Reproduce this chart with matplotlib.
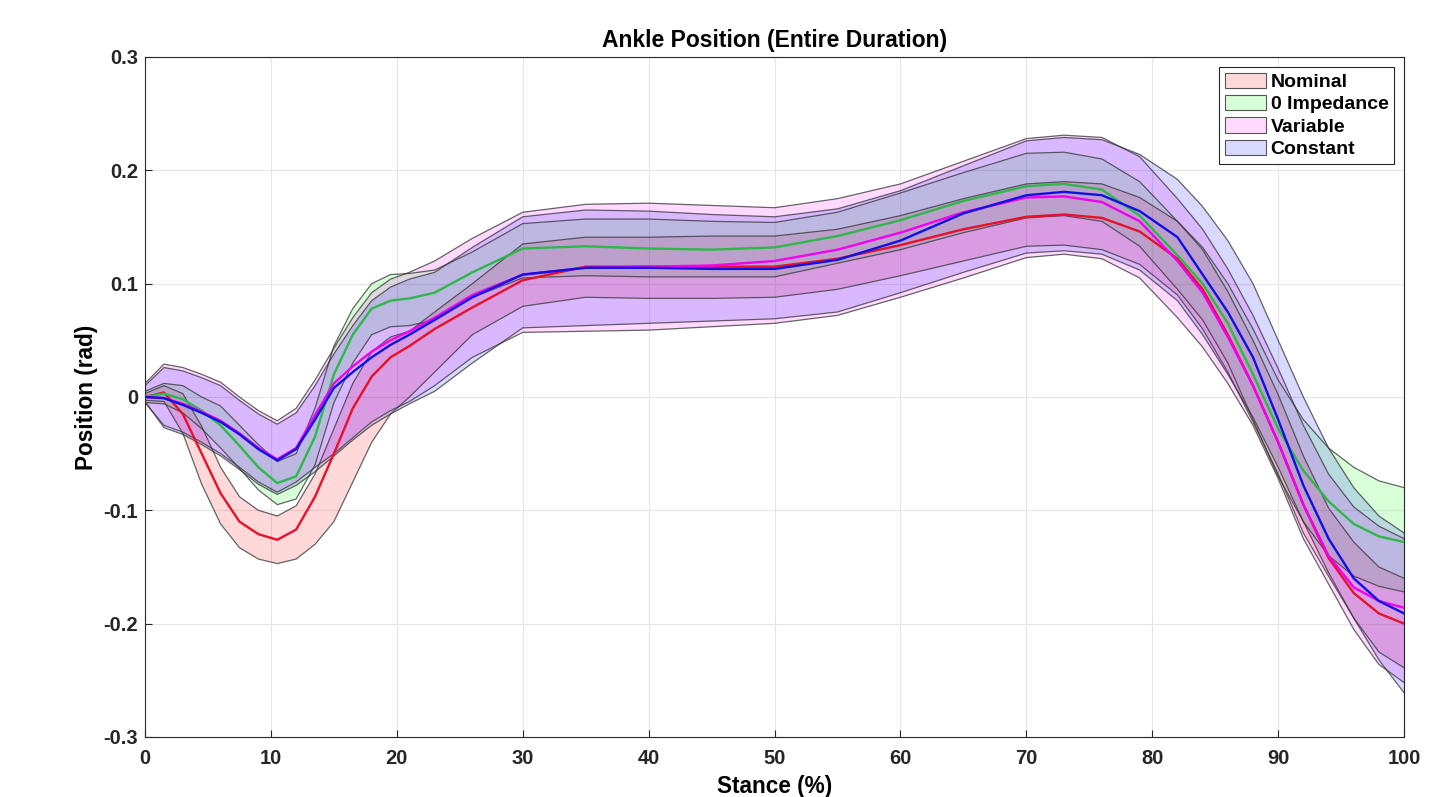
import matplotlib
matplotlib.use('Agg')
import matplotlib.pyplot as plt
from matplotlib.patches import Patch
import numpy as np

plt.rcParams['font.family'] = ['Liberation Sans', 'DejaVu Sans']
plt.rcParams['font.weight'] = 'bold'
plt.rcParams['axes.unicode_minus'] = False

# stance (%) sample points
stance = [0, 1.5, 3, 4.5, 6, 7.5, 9, 10.5, 12, 13.5, 15, 16.5, 18, 19.5, 21, 23, 26, 30,
          35, 40, 45, 50, 55, 60, 65, 70, 73, 76, 79, 82, 84, 86, 88, 90, 92, 94, 96, 98, 100]

# Nominal
nominal_mean = [0, 0.004, -0.015, -0.05, -0.085, -0.11, -0.121, -0.126, -0.117, -0.088, -0.05,
                -0.01, 0.018, 0.035, 0.045, 0.06, 0.079, 0.103,
                0.115, 0.115, 0.115, 0.115, 0.122, 0.134, 0.148, 0.159, 0.161, 0.158, 0.146,
                0.122, 0.095, 0.055, 0.01, -0.04, -0.095, -0.142, -0.173, -0.191, -0.2]
nominal_upper = [0.003, 0.01, 0.003, -0.026, -0.062, -0.088, -0.1, -0.105, -0.096, -0.068, -0.028,
                 0.012, 0.04, 0.053, 0.058, 0.075, 0.1, 0.135,
                 0.141, 0.141, 0.142, 0.142, 0.148, 0.16, 0.175, 0.188, 0.19, 0.188, 0.176,
                 0.155, 0.13, 0.093, 0.05, 0.002, -0.052, -0.098, -0.128, -0.15, -0.16]
nominal_lower = [-0.003, -0.004, -0.032, -0.077, -0.112, -0.133, -0.143, -0.147, -0.143, -0.13, -0.11,
                 -0.075, -0.04, -0.015, 0.0, 0.022, 0.055, 0.08,
                 0.088, 0.087, 0.087, 0.088, 0.095, 0.107, 0.12, 0.133, 0.134, 0.13, 0.117,
                 0.09, 0.06, 0.022, -0.022, -0.068, -0.12, -0.158, -0.195, -0.225, -0.239]

# 0 Impedance
zero_mean = [0, 0.003, -0.002, -0.012, -0.025, -0.043, -0.062, -0.076, -0.07, -0.035, 0.02,
             0.055, 0.078, 0.085, 0.087, 0.092, 0.11, 0.131,
             0.133, 0.131, 0.13, 0.132, 0.142, 0.156, 0.173, 0.186, 0.188, 0.183, 0.16,
             0.125, 0.1, 0.065, 0.02, -0.028, -0.065, -0.092, -0.112, -0.123, -0.128]
zero_upper = [0.005, 0.012, 0.01, 0.0, -0.008, -0.025, -0.042, -0.057, -0.05, -0.01, 0.045,
              0.078, 0.1, 0.108, 0.109, 0.112, 0.128, 0.153,
              0.157, 0.157, 0.155, 0.154, 0.163, 0.18, 0.198, 0.215, 0.216, 0.21, 0.19,
              0.155, 0.132, 0.1, 0.06, 0.015, -0.02, -0.045, -0.062, -0.074, -0.08]
zero_lower = [-0.005, -0.006, -0.014, -0.028, -0.045, -0.063, -0.082, -0.095, -0.09, -0.06, -0.005,
              0.03, 0.055, 0.062, 0.063, 0.068, 0.088, 0.105,
              0.107, 0.106, 0.106, 0.106, 0.118, 0.13, 0.145, 0.158, 0.16, 0.155, 0.133,
              0.095, 0.068, 0.03, -0.02, -0.07, -0.11, -0.14, -0.158, -0.167, -0.172]

# Variable
variable_mean = [0, -0.001, -0.006, -0.013, -0.021, -0.032, -0.045, -0.055, -0.045, -0.016, 0.012,
                 0.027, 0.04, 0.05, 0.058, 0.07, 0.09, 0.108,
                 0.114, 0.115, 0.116, 0.12, 0.13, 0.145, 0.163, 0.176, 0.177, 0.172, 0.155,
                 0.12, 0.092, 0.053, 0.01, -0.04, -0.095, -0.14, -0.168, -0.18, -0.186]
variable_upper = [0.012, 0.029, 0.026, 0.02, 0.013, 0.0, -0.012, -0.021, -0.01, 0.015, 0.043,
                  0.07, 0.092, 0.104, 0.11, 0.12, 0.14, 0.163,
                  0.17, 0.171, 0.169, 0.167, 0.175, 0.188, 0.208, 0.228, 0.231, 0.229, 0.212,
                  0.175, 0.148, 0.113, 0.072, 0.025, -0.025, -0.068, -0.097, -0.114, -0.125]
variable_lower = [-0.005, -0.025, -0.031, -0.04, -0.05, -0.062, -0.075, -0.084, -0.075, -0.062, -0.05,
                  -0.036, -0.022, -0.012, -0.004, 0.01, 0.035, 0.057,
                  0.058, 0.059, 0.062, 0.065, 0.072, 0.088, 0.105, 0.123, 0.126, 0.122, 0.105,
                  0.07, 0.044, 0.012, -0.025, -0.072, -0.125, -0.165, -0.205, -0.236, -0.252]

# Constant
constant_mean = [0, -0.001, -0.007, -0.014, -0.022, -0.033, -0.046, -0.056, -0.046, -0.02, 0.008,
                 0.022, 0.035, 0.046, 0.055, 0.068, 0.088, 0.108,
                 0.114, 0.114, 0.113, 0.113, 0.121, 0.138, 0.162, 0.178, 0.181, 0.178, 0.164,
                 0.141, 0.108, 0.075, 0.035, -0.02, -0.078, -0.125, -0.16, -0.18, -0.191]
constant_upper = [0.01, 0.026, 0.023, 0.017, 0.01, -0.003, -0.015, -0.024, -0.014, 0.01, 0.038,
                  0.063, 0.085, 0.097, 0.104, 0.11, 0.132, 0.159,
                  0.165, 0.164, 0.161, 0.159, 0.166, 0.182, 0.204, 0.226, 0.229, 0.227, 0.214,
                  0.192, 0.168, 0.138, 0.1, 0.05, 0.0, -0.045, -0.08, -0.105, -0.12]
constant_lower = [-0.004, -0.027, -0.033, -0.042, -0.052, -0.064, -0.077, -0.086, -0.078, -0.066, -0.052,
                  -0.038, -0.025, -0.015, -0.006, 0.005, 0.03, 0.061,
                  0.063, 0.065, 0.067, 0.069, 0.075, 0.092, 0.11, 0.127, 0.129, 0.126, 0.112,
                  0.085, 0.055, 0.02, -0.018, -0.062, -0.11, -0.155, -0.195, -0.232, -0.261]

labels = ['Nominal', '0 Impedance', 'Variable', 'Constant']
fill_colors = ['#ff0000', '#00ff00', '#ff00ff', '#0000ff']
line_colors = ['#e8102a', '#2db84a', '#f000f0', '#1010e6']

bands = [(nominal_mean, nominal_upper, nominal_lower),
         (zero_mean, zero_upper, zero_lower),
         (variable_mean, variable_upper, variable_lower),
         (constant_mean, constant_upper, constant_lower)]

fig = plt.figure(figsize=(14.52, 7.97), dpi=100)
ax = fig.add_axes([0.0999, 0.0753, 0.8671, 0.8532])

x = np.array(stance)
for (m, up, lo), fc in zip(bands, fill_colors):
    ax.fill_between(x, lo, up, facecolor=fc, alpha=0.15, linewidth=0, zorder=2)
    ax.plot(x, up, color='#333333', lw=0.9, alpha=0.75, zorder=3)
    ax.plot(x, lo, color='#333333', lw=0.9, alpha=0.75, zorder=3)

for (m, up, lo), lc in zip(bands, line_colors):
    ax.plot(x, m, color=lc, lw=1.7, zorder=4)

ax.set_xlim(0, 100)
ax.set_ylim(-0.3, 0.3)
ax.set_xticks(np.arange(0, 101, 10))
ax.set_yticks(np.arange(-0.3, 0.31, 0.1))
ax.set_yticklabels(['-0.3', '-0.2', '-0.1', '0', '0.1', '0.2', '0.3'])
ax.tick_params(direction='in', labelsize=14.5, length=5, width=0.8, colors='#262626')
ax.tick_params(axis='x', pad=9)
ax.tick_params(axis='y', pad=5)
ax.grid(True, color='#e6e6e6', lw=0.8, zorder=0)
ax.set_axisbelow(True)
for s in ax.spines.values():
    s.set_color('#262626')
    s.set_linewidth(0.8)

ax.set_title('Ankle Position (Entire Duration)', fontsize=16.5, fontweight='bold', pad=7)
ax.set_xlabel('Stance (%)', fontsize=16.3, fontweight='bold', labelpad=5)
ax.set_ylabel('Position (rad)', fontsize=16.3, fontweight='bold', labelpad=4)

handles = [Patch(facecolor=matplotlib.colors.to_rgba(fc, 0.15), edgecolor='#555555', lw=0.8)
           for fc in fill_colors]
leg = ax.legend(handles, labels, loc='upper right', fontsize=14, frameon=True, fancybox=False,
                edgecolor='#262626', framealpha=1, borderpad=0.3, labelspacing=0.2,
                handlelength=2.1, handleheight=0.85, handletextpad=0.25, borderaxespad=0.5)
leg.get_frame().set_linewidth(0.8)

fig.savefig('out.png', dpi=100)
